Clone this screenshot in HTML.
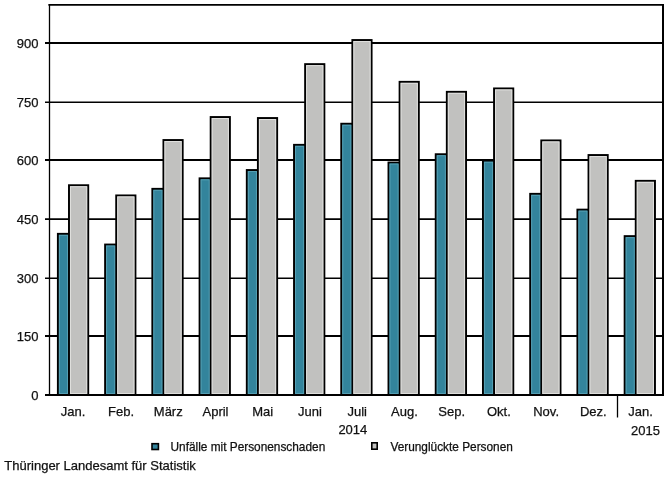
<!DOCTYPE html>
<html><head><meta charset="utf-8"><style>
html,body{margin:0;padding:0;background:#fff;width:668px;height:480px;overflow:hidden}
svg{display:block;will-change:transform}
.t{font-family:"Liberation Sans",sans-serif;font-size:13px;fill:#111;stroke:#111;stroke-width:0.25px}
.l{font-family:"Liberation Sans",sans-serif;font-size:11.85px;fill:#111;stroke:#111;stroke-width:0.25px}
</style></head><body>
<svg width="668" height="480" viewBox="0 0 668 480">
<rect width="668" height="480" fill="#fff"/>
<line x1="45" y1="43.00" x2="663" y2="43.00" stroke="#000" stroke-width="2.0"/>
<line x1="45" y1="102.20" x2="663" y2="102.20" stroke="#000" stroke-width="1.6"/>
<line x1="45" y1="160.00" x2="663" y2="160.00" stroke="#000" stroke-width="2.0"/>
<line x1="45" y1="219.10" x2="663" y2="219.10" stroke="#000" stroke-width="1.8"/>
<line x1="45" y1="278.20" x2="663" y2="278.20" stroke="#000" stroke-width="1.6"/>
<line x1="45" y1="336.00" x2="663" y2="336.00" stroke="#000" stroke-width="2.0"/>
<text x="38.5" y="47.80" text-anchor="end" class="t">900</text>
<text x="38.5" y="107.00" text-anchor="end" class="t">750</text>
<text x="38.5" y="164.80" text-anchor="end" class="t">600</text>
<text x="38.5" y="223.90" text-anchor="end" class="t">450</text>
<text x="38.5" y="283.00" text-anchor="end" class="t">300</text>
<text x="38.5" y="340.80" text-anchor="end" class="t">150</text>
<text x="38.5" y="399.80" text-anchor="end" class="t">0</text>
<rect x="57.90" y="233.85" width="11.1" height="161.15" fill="#33849c" stroke="#000" stroke-width="1.95"/>
<rect x="69.00" y="185.25" width="19.2" height="209.75" fill="#c1c1bf" stroke="#000" stroke-width="1.95"/>
<rect x="59.38" y="235.32" width="8.15" height="158.20" fill="none" stroke="#56a0b4" stroke-width="1"/>
<rect x="70.47" y="186.72" width="16.25" height="206.80" fill="none" stroke="#e0e0de" stroke-width="1"/>
<text x="73.02" y="415.6" text-anchor="middle" class="t">Jan.</text>
<rect x="105.13" y="244.55" width="11.1" height="150.45" fill="#33849c" stroke="#000" stroke-width="1.95"/>
<rect x="116.23" y="195.45" width="19.2" height="199.55" fill="#c1c1bf" stroke="#000" stroke-width="1.95"/>
<rect x="106.60" y="246.02" width="8.15" height="147.50" fill="none" stroke="#56a0b4" stroke-width="1"/>
<rect x="117.70" y="196.92" width="16.25" height="196.60" fill="none" stroke="#e0e0de" stroke-width="1"/>
<text x="121.05" y="415.6" text-anchor="middle" class="t">Feb.</text>
<rect x="152.36" y="188.85" width="11.1" height="206.15" fill="#33849c" stroke="#000" stroke-width="1.95"/>
<rect x="163.46" y="140.05" width="19.2" height="254.95" fill="#c1c1bf" stroke="#000" stroke-width="1.95"/>
<rect x="153.83" y="190.32" width="8.15" height="203.20" fill="none" stroke="#56a0b4" stroke-width="1"/>
<rect x="164.93" y="141.52" width="16.25" height="252.00" fill="none" stroke="#e0e0de" stroke-width="1"/>
<text x="168.27" y="415.6" text-anchor="middle" class="t">März</text>
<rect x="199.59" y="178.35" width="11.1" height="216.65" fill="#33849c" stroke="#000" stroke-width="1.95"/>
<rect x="210.69" y="117.05" width="19.2" height="277.95" fill="#c1c1bf" stroke="#000" stroke-width="1.95"/>
<rect x="201.06" y="179.82" width="8.15" height="213.70" fill="none" stroke="#56a0b4" stroke-width="1"/>
<rect x="212.16" y="118.52" width="16.25" height="275.00" fill="none" stroke="#e0e0de" stroke-width="1"/>
<text x="215.50" y="415.6" text-anchor="middle" class="t">April</text>
<rect x="246.82" y="170.05" width="11.1" height="224.95" fill="#33849c" stroke="#000" stroke-width="1.95"/>
<rect x="257.92" y="118.05" width="19.2" height="276.95" fill="#c1c1bf" stroke="#000" stroke-width="1.95"/>
<rect x="248.29" y="171.52" width="8.15" height="222.00" fill="none" stroke="#56a0b4" stroke-width="1"/>
<rect x="259.40" y="119.52" width="16.25" height="274.00" fill="none" stroke="#e0e0de" stroke-width="1"/>
<text x="262.73" y="415.6" text-anchor="middle" class="t">Mai</text>
<rect x="294.05" y="144.85" width="11.1" height="250.15" fill="#33849c" stroke="#000" stroke-width="1.95"/>
<rect x="305.15" y="64.15" width="19.2" height="330.85" fill="#c1c1bf" stroke="#000" stroke-width="1.95"/>
<rect x="295.52" y="146.32" width="8.15" height="247.20" fill="none" stroke="#56a0b4" stroke-width="1"/>
<rect x="306.62" y="65.62" width="16.25" height="327.90" fill="none" stroke="#e0e0de" stroke-width="1"/>
<text x="309.96" y="415.6" text-anchor="middle" class="t">Juni</text>
<rect x="341.28" y="123.75" width="11.1" height="271.25" fill="#33849c" stroke="#000" stroke-width="1.95"/>
<rect x="352.38" y="40.05" width="19.2" height="354.95" fill="#c1c1bf" stroke="#000" stroke-width="1.95"/>
<rect x="342.75" y="125.22" width="8.15" height="268.30" fill="none" stroke="#56a0b4" stroke-width="1"/>
<rect x="353.86" y="41.53" width="16.25" height="352.00" fill="none" stroke="#e0e0de" stroke-width="1"/>
<text x="357.19" y="415.6" text-anchor="middle" class="t">Juli</text>
<rect x="388.51" y="162.55" width="11.1" height="232.45" fill="#33849c" stroke="#000" stroke-width="1.95"/>
<rect x="399.61" y="81.85" width="19.2" height="313.15" fill="#c1c1bf" stroke="#000" stroke-width="1.95"/>
<rect x="389.98" y="164.02" width="8.15" height="229.50" fill="none" stroke="#56a0b4" stroke-width="1"/>
<rect x="401.08" y="83.32" width="16.25" height="310.20" fill="none" stroke="#e0e0de" stroke-width="1"/>
<text x="404.42" y="415.6" text-anchor="middle" class="t">Aug.</text>
<rect x="435.74" y="154.25" width="11.1" height="240.75" fill="#33849c" stroke="#000" stroke-width="1.95"/>
<rect x="446.84" y="91.85" width="19.2" height="303.15" fill="#c1c1bf" stroke="#000" stroke-width="1.95"/>
<rect x="437.21" y="155.72" width="8.15" height="237.80" fill="none" stroke="#56a0b4" stroke-width="1"/>
<rect x="448.31" y="93.32" width="16.25" height="300.20" fill="none" stroke="#e0e0de" stroke-width="1"/>
<text x="451.65" y="415.6" text-anchor="middle" class="t">Sep.</text>
<rect x="482.97" y="160.75" width="11.1" height="234.25" fill="#33849c" stroke="#000" stroke-width="1.95"/>
<rect x="494.07" y="88.45" width="19.2" height="306.55" fill="#c1c1bf" stroke="#000" stroke-width="1.95"/>
<rect x="484.44" y="162.22" width="8.15" height="231.30" fill="none" stroke="#56a0b4" stroke-width="1"/>
<rect x="495.55" y="89.92" width="16.25" height="303.60" fill="none" stroke="#e0e0de" stroke-width="1"/>
<text x="498.88" y="415.6" text-anchor="middle" class="t">Okt.</text>
<rect x="530.20" y="193.85" width="11.1" height="201.15" fill="#33849c" stroke="#000" stroke-width="1.95"/>
<rect x="541.30" y="140.45" width="19.2" height="254.55" fill="#c1c1bf" stroke="#000" stroke-width="1.95"/>
<rect x="531.67" y="195.32" width="8.15" height="198.20" fill="none" stroke="#56a0b4" stroke-width="1"/>
<rect x="542.77" y="141.92" width="16.25" height="251.60" fill="none" stroke="#e0e0de" stroke-width="1"/>
<text x="546.12" y="415.6" text-anchor="middle" class="t">Nov.</text>
<rect x="577.43" y="209.65" width="11.1" height="185.35" fill="#33849c" stroke="#000" stroke-width="1.95"/>
<rect x="588.53" y="155.05" width="19.2" height="239.95" fill="#c1c1bf" stroke="#000" stroke-width="1.95"/>
<rect x="578.90" y="211.12" width="8.15" height="182.40" fill="none" stroke="#56a0b4" stroke-width="1"/>
<rect x="590.00" y="156.52" width="16.25" height="237.00" fill="none" stroke="#e0e0de" stroke-width="1"/>
<text x="593.35" y="415.6" text-anchor="middle" class="t">Dez.</text>
<rect x="624.66" y="236.15" width="11.1" height="158.85" fill="#33849c" stroke="#000" stroke-width="1.95"/>
<rect x="635.76" y="180.85" width="19.2" height="214.15" fill="#c1c1bf" stroke="#000" stroke-width="1.95"/>
<rect x="626.13" y="237.62" width="8.15" height="155.90" fill="none" stroke="#56a0b4" stroke-width="1"/>
<rect x="637.24" y="182.32" width="16.25" height="211.20" fill="none" stroke="#e0e0de" stroke-width="1"/>
<text x="640.58" y="415.6" text-anchor="middle" class="t">Jan.</text>
<line x1="49.5" y1="4" x2="49.5" y2="396" stroke="#000" stroke-width="1.3"/>
<line x1="48.4" y1="4.85" x2="664" y2="4.85" stroke="#000" stroke-width="1.7"/>
<line x1="663" y1="4" x2="663" y2="396" stroke="#000" stroke-width="2"/>
<line x1="45" y1="395" x2="664" y2="395" stroke="#000" stroke-width="2"/>
<line x1="617.5" y1="395" x2="617.5" y2="417.5" stroke="#000" stroke-width="1.3"/>
<text x="367.3" y="433.6" text-anchor="end" class="t">2014</text>
<text x="660" y="434.5" text-anchor="end" class="t">2015</text>
<rect x="152" y="443.7" width="6.4" height="5.8" fill="#33849c" stroke="#000" stroke-width="1.6"/>
<text x="170.5" y="451.2" class="l">Unfälle mit Personenschaden</text>
<rect x="371.8" y="442.8" width="5.4" height="6.4" fill="#c1c1bf" stroke="#000" stroke-width="1.6"/>
<text x="390.4" y="451.3" class="l">Verunglückte Personen</text>
<text x="4.3" y="470.4" class="t">Thüringer Landesamt für Statistik</text>
</svg>
</body></html>
